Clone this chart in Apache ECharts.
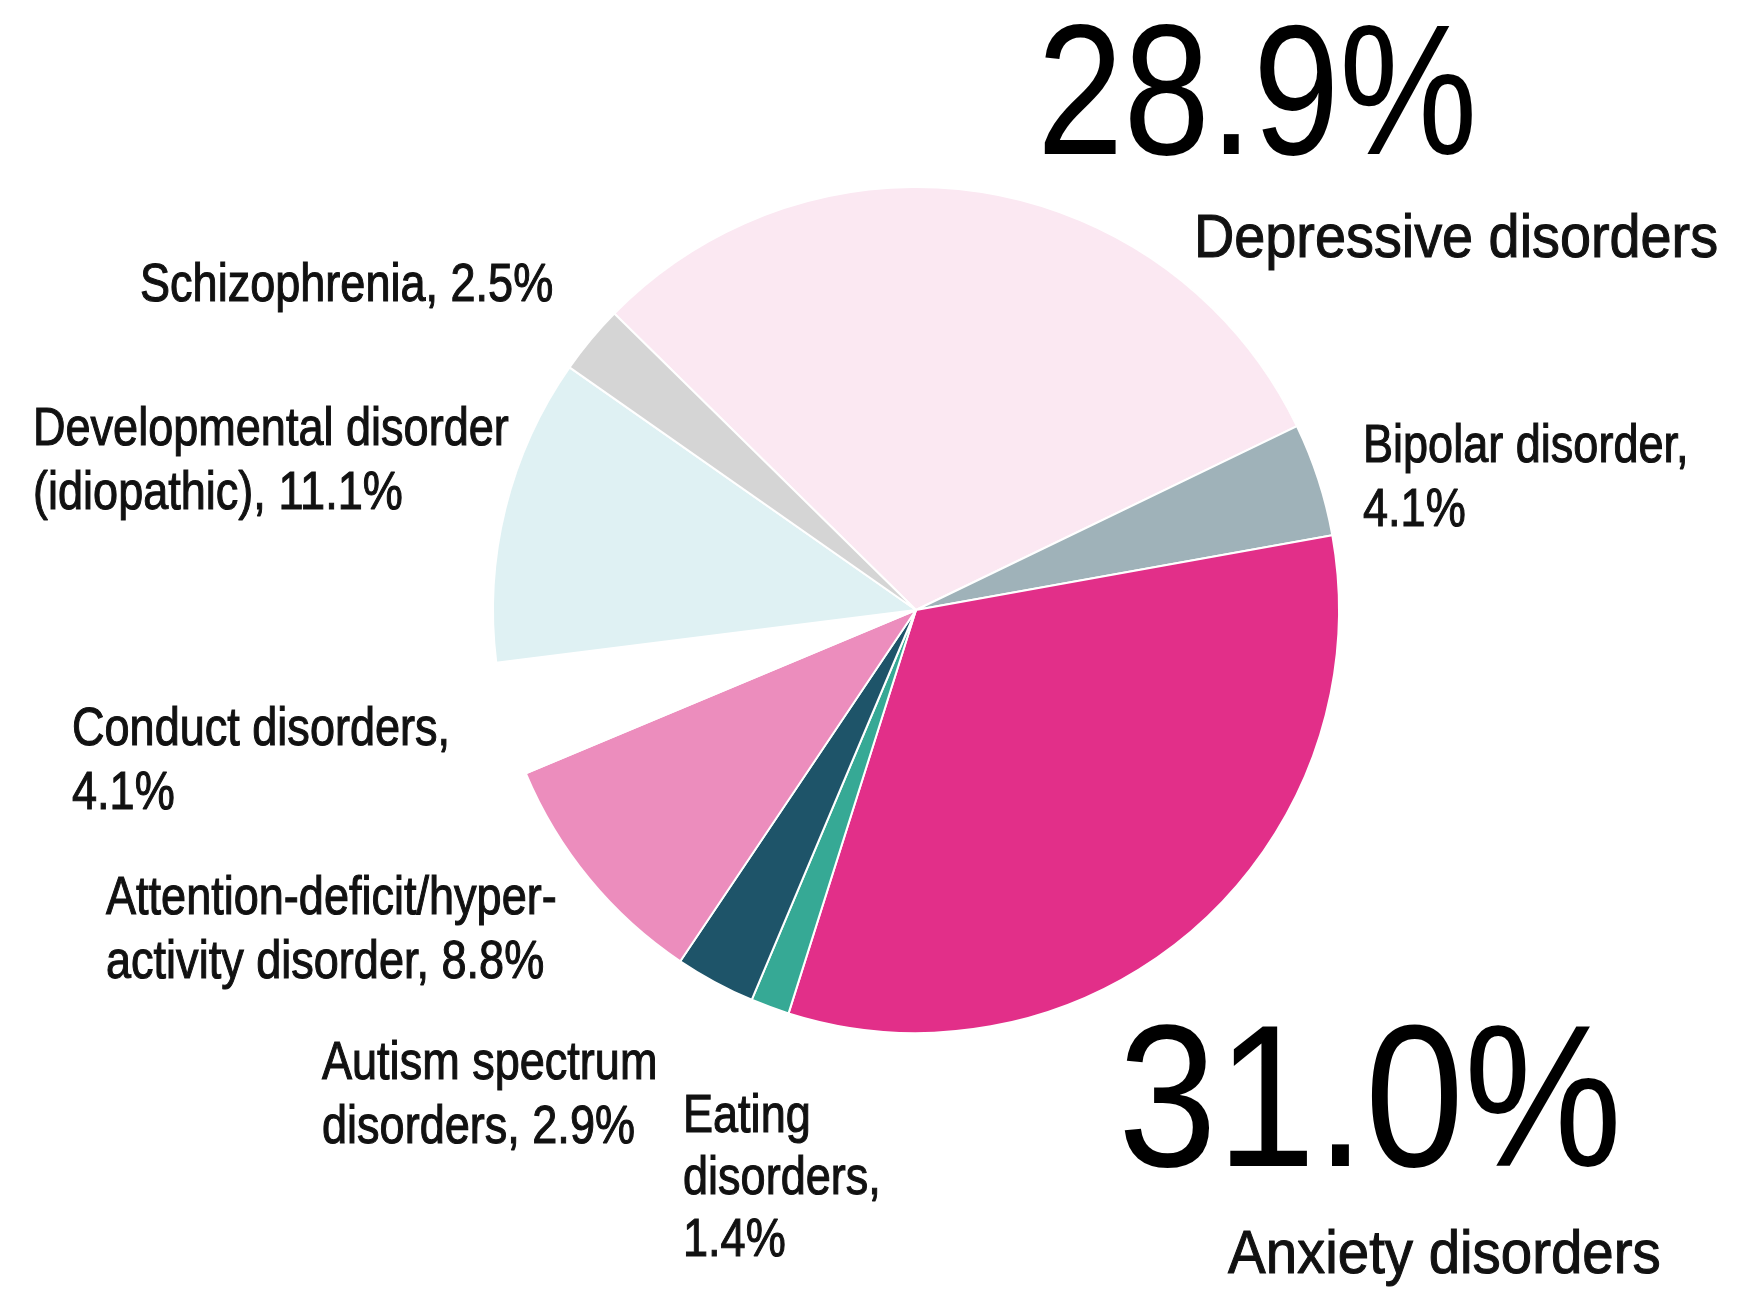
<!DOCTYPE html>
<html>
<head>
<meta charset="utf-8">
<title>Mental disorders share</title>
<script src="https://cdn.jsdelivr.net/npm/echarts@6/dist/echarts.min.js"></script>
<style>
  html, body { margin: 0; padding: 0; background: #ffffff; }
  #chart { width: 1764px; height: 1294px; }
</style>
</head>
<body>
<div id="chart"></div>
<script>
// Slices, clockwise from the upper left
const categories = [
  'Depressive disorders',
  'Bipolar disorder',
  'Anxiety disorders',
  'Eating disorders',
  'Autism spectrum disorders',
  'Attention-deficit/hyperactivity disorder',
  'Conduct disorders',
  'Developmental disorder (idiopathic)',
  'Schizophrenia'
];
const shares = [28.9, 4.1, 31.0, 1.4, 2.9, 8.8, 4.1, 11.1, 2.5];

const sliceColors = ['#fbe8f2', '#9fb2b9', '#e22f89', '#36a995', '#1e5469',
                     '#ec8dbd', '#ffffff', '#dff1f3', '#d5d5d5'];

const FONT = "'Liberation Sans', Arial, sans-serif";

// Label blocks: which slice they describe, how the text breaks ({v} = value),
// where the block's top-left sits, and its type size / horizontal squeeze.
const labelBlocks = [
  { slice: 0, text: '{v}',                                      x: 1037, y: 18,   size: 186, lh: 170, sx: 0.835, color: '#000', weight: 0 },
  { slice: 0, text: 'Depressive disorders',                     x: 1194, y: 208,  size: 62,  lh: 64,  sx: 0.90 },
  { slice: 1, text: 'Bipolar disorder,\n{v}',                   x: 1363, y: 415,  size: 53,  lh: 64,  sx: 0.85 },
  { slice: 2, text: '{v}',                                      x: 1118, y: 1020, size: 202, lh: 180, sx: 0.88, color: '#000', weight: 0 },
  { slice: 2, text: 'Anxiety disorders',                        x: 1228, y: 1224, size: 62,  lh: 64,  sx: 0.91 },
  { slice: 3, text: 'Eating\ndisorders,\n{v}',                  x: 683,  y: 1086, size: 53,  lh: 62,  sx: 0.85 },
  { slice: 4, text: 'Autism spectrum\ndisorders, {v}',          x: 322,  y: 1032, size: 53,  lh: 64,  sx: 0.85 },
  { slice: 5, text: 'Attention-deficit/hyper-\nactivity disorder, {v}', x: 106, y: 867, size: 53, lh: 64, sx: 0.85 },
  { slice: 6, text: 'Conduct disorders,\n{v}',                  x: 72,   y: 698,  size: 53,  lh: 64,  sx: 0.85 },
  { slice: 7, text: 'Developmental disorder\n(idiopathic), {v}', x: 33,  y: 398,  size: 53,  lh: 64,  sx: 0.85 },
  { slice: 8, text: 'Schizophrenia, {v}',                       x: 140,  y: 254,  size: 53,  lh: 64,  sx: 0.85 }
];

const chart = echarts.init(document.getElementById('chart'), null, { renderer: 'canvas' });

chart.setOption({
  backgroundColor: '#ffffff',
  animation: false,
  series: [{
    type: 'pie',
    center: [916, 610],
    radius: 423,
    startAngle: 135.5,
    clockwise: true,
    avoidLabelOverlap: false,
    data: categories.map((name, i) => ({
      name: name,
      value: shares[i],
      itemStyle: { color: sliceColors[i] }
    })),
    itemStyle: { borderColor: '#ffffff', borderWidth: 2 },
    emphasis: { disabled: true },
    label: { show: false },
    labelLine: { show: false }
  }],
  graphic: labelBlocks.map((b) => {
    const fill = b.color || '#111111';
    const weight = b.weight === undefined ? 1.1 : b.weight;
    return {
      type: 'text',
      x: b.x,
      y: b.y,
      scaleX: b.sx,
      silent: true,
      style: {
        text: b.text.replace('{v}', shares[b.slice].toFixed(1) + '%'),
        fontFamily: FONT,
        fontSize: b.size,
        lineHeight: b.lh,
        fill: fill,
        stroke: weight > 0 ? fill : null,
        lineWidth: weight,
        align: 'left',
        verticalAlign: 'top'
      }
    };
  })
});
</script>
</body>
</html>
